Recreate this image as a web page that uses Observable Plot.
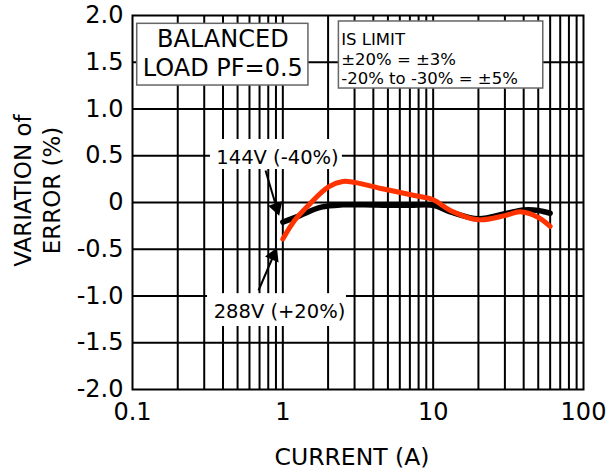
<!DOCTYPE html>
<html>
<head>
<meta charset="utf-8">
<script src="https://cdn.jsdelivr.net/npm/d3@7"></script>
<script src="https://cdn.jsdelivr.net/npm/@observablehq/plot@0.6"></script>
<style>
  html, body { margin: 0; padding: 0; background: #fff; }
</style>
</head>
<body>
<div id="chart"></div>
<script>
// Error variation vs. current, balanced load at PF = 0.5
const current144 = [1, 1.3, 1.8, 2.5, 3.5, 5, 7, 10, 13, 20, 30, 40, 50, 60];
const error144 = [-0.21, -0.14, -0.05, -0.025, -0.025, -0.03, -0.03, -0.03, -0.10, -0.175, -0.12, -0.08, -0.085, -0.115];
const current288 = [1, 1.2, 1.5, 2, 2.5, 3, 4.5, 7.5, 10, 13, 20, 30, 38, 50, 60];
const error288 = [-0.39, -0.19, -0.02, 0.165, 0.225, 0.215, 0.15, 0.075, 0.03, -0.085, -0.185, -0.14, -0.10, -0.16, -0.255];

const xTicks = [0.1, 1, 10, 100];
const xTickLabels = ["0.1", "1", "10", "100"];
const yTicks = [-2, -1.5, -1, -0.5, 0, 0.5, 1, 1.5, 2];
const yTickLabels = ["-2.0", "-1.5", "-1.0", "-0.5", "0", "0.5", "1.0", "1.5", "2.0"];
const xGrid = [0.2, 0.3, 0.4, 0.5, 0.6, 0.7, 0.8, 0.9, 1,
               2, 3, 4, 5, 6, 7, 8, 9, 10,
               20, 30, 40, 50, 60, 70, 80, 90];
const yGrid = [-1.5, -1, -0.5, 0, 0.5, 1, 1.5];

const series144 = current144.map((c, i) => ({current: c, error: error144[i]}));
const series288 = current288.map((c, i) => ({current: c, error: error288[i]}));

const font = "DejaVu Sans, Verdana, sans-serif";

const chart = Plot.plot({
  width: 614,
  height: 475,
  marginLeft: 132,
  marginRight: 31,
  marginTop: 15,
  marginBottom: 86,
  style: {fontFamily: font, fontSize: "22px", color: "#000", background: "#fff"},
  x: {type: "log", domain: [0.1, 100]},
  y: {domain: [-2, 2]},
  marks: [
    // grid
    Plot.ruleX(xGrid, {stroke: "#000", strokeWidth: 2}),
    Plot.ruleY(yGrid, {stroke: "#000", strokeWidth: 2}),
    Plot.frame({stroke: "#000", strokeWidth: 2}),

    // annotation boxes
    Plot.rect([{x1: 0.1075, x2: 1.48, y1: 1.911, y2: 1.251}],
      {x1: "x1", x2: "x2", y1: "y1", y2: "y2", fill: "#fff", stroke: "#666", strokeWidth: 1.5}),
    Plot.rect([{x1: 2.36, x2: 54, y1: 1.936, y2: 1.219}],
      {x1: "x1", x2: "x2", y1: "y1", y2: "y2", fill: "#fff", stroke: "#666", strokeWidth: 1.5}),
    Plot.rect([{x1: 0.33, x2: 2.49, y1: 0.674, y2: 0.353}],
      {x1: "x1", x2: "x2", y1: "y1", y2: "y2", fill: "#fff"}),
    Plot.rect([{x1: 0.3155, x2: 2.65, y1: -0.975, y2: -1.326}],
      {x1: "x1", x2: "x2", y1: "y1", y2: "y2", fill: "#fff"}),

    // curves
    Plot.line(series144, {x: "current", y: "error", stroke: "#000", strokeWidth: 5.5, curve: "catmull-rom"}),
    Plot.line(series288, {x: "current", y: "error", stroke: "#ff3300", strokeWidth: 5, curve: "catmull-rom"}),

    // leader arrows
    Plot.link([{x1: 0.767, y1: 0.342, x2: 0.908, y2: -0.0535}],
      {x1: "x1", y1: "y1", x2: "x2", y2: "y2", stroke: "#000", strokeWidth: 2}),
    Plot.dot([{x: 0.908, y: -0.0535}], {x: "x", y: "y", symbol: "triangle", r: 5.5, fill: "#000", rotate: 162}),
    Plot.link([{x1: 0.689, y1: -0.941, x2: 0.867, y2: -0.567}],
      {x1: "x1", y1: "y1", x2: "x2", y2: "y2", stroke: "#000", strokeWidth: 2}),
    Plot.dot([{x: 0.867, y: -0.567}], {x: "x", y: "y", symbol: "triangle", r: 5.5, fill: "#000", rotate: 24}),

    // labels
    Plot.text(["BALANCED\nLOAD PF=0.5"], {x: 0.399, y: 1.61, text: d => d, fontSize: 24, lineHeight: 1.2, fill: "#000"}),
    Plot.text(["IS LIMIT\n±20% = ±3%\n-20% to -30% = ±5%"],
      {x: 2.446, y: 1.54, text: d => d, fontSize: 16.5, lineHeight: 1.19, textAnchor: "start", fill: "#000"}),
    Plot.text(["144V (-40%)"], {x: 0.922, y: 0.481, text: d => d, fontSize: 19.5, fill: "#000"}),
    Plot.text(["288V (+20%)"], {x: 0.95, y: -1.173, text: d => d, fontSize: 19.5, fill: "#000"}),

    // axes
    Plot.axisY(yTicks, {tickSize: 0, tickPadding: 9, fontSize: 24, tickFormat: d => yTickLabels[yTicks.indexOf(d)]}),
    Plot.axisX(xTicks, {tickSize: 0, tickPadding: 13, fontSize: 24, tickFormat: d => xTickLabels[xTicks.indexOf(d)]}),
    Plot.text(["CURRENT (A)"], {frameAnchor: "bottom", dx: -6, dy: 68, text: d => d, fontSize: 23.5,
      textAnchor: "middle", lineAnchor: "middle", fill: "#000"}),
    Plot.text(["VARIATION of\nERROR (%)"], {frameAnchor: "left", dx: -96, dy: -12, rotate: -90, text: d => d,
      fontSize: 23, lineHeight: 1.22, textAnchor: "middle", lineAnchor: "middle", fill: "#000"})
  ]
});

document.getElementById("chart").appendChild(chart);
</script>
</body>
</html>
